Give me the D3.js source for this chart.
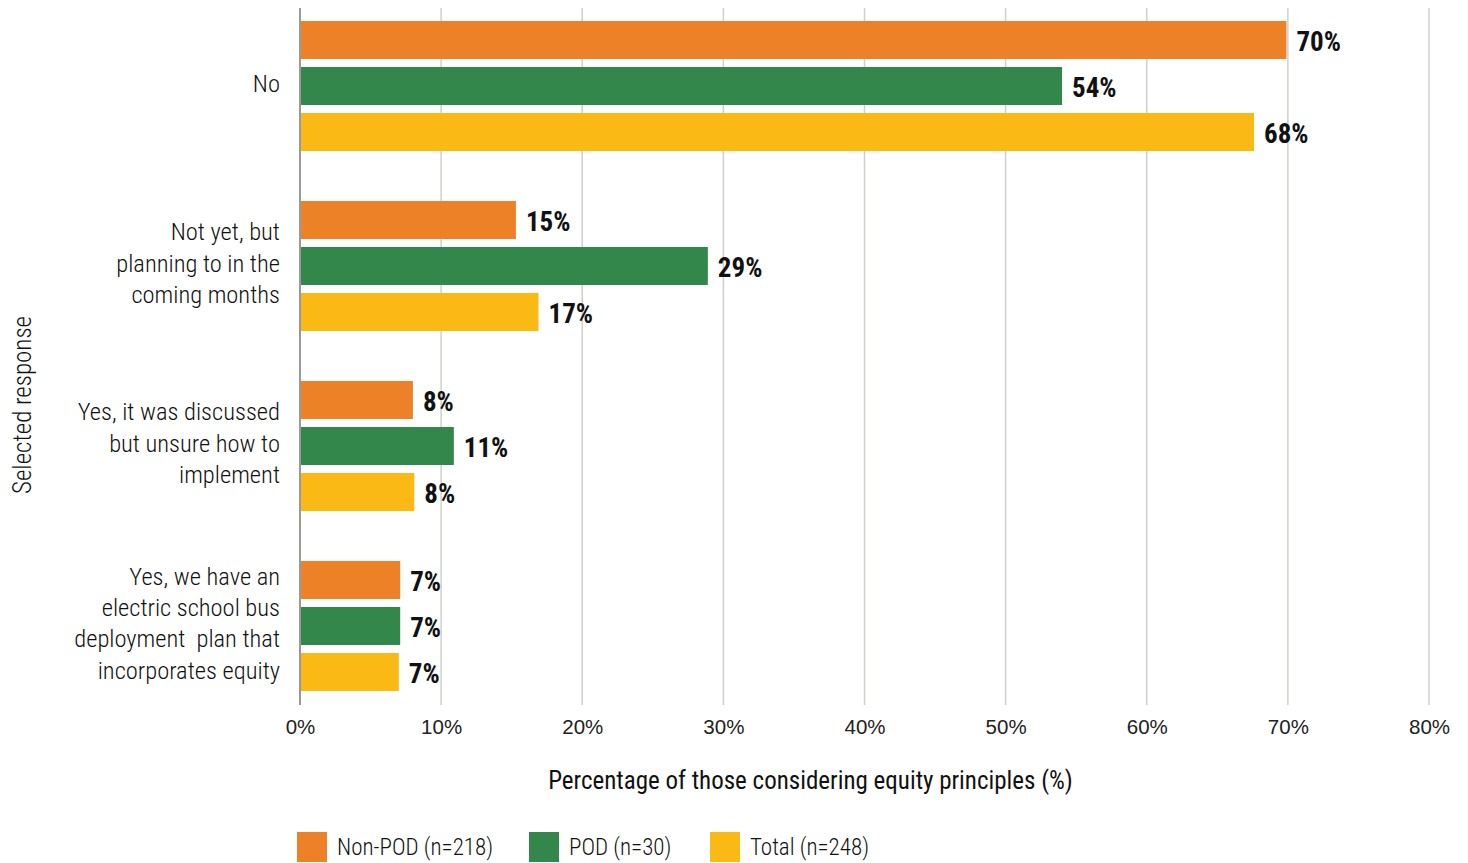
<!DOCTYPE html>
<html>
<head>
<meta charset="utf-8">
<script src="https://cdn.jsdelivr.net/npm/d3@7"></script>
<style>
  html, body { margin: 0; padding: 0; background: #fff; }
  svg { display: block; font-family: "Roboto Condensed", "Roboto", "Liberation Sans Narrow", "DejaVu Sans Condensed", sans-serif; font-stretch: 75%; }
  text { white-space: pre; }
</style>
</head>
<body>
<svg id="chart" width="1468" height="863"></svg>
<script>
// Survey responses, one line-wrapped label per category (top to bottom)
const categories = [
  ["No"],
  ["Not yet, but", "planning to in the", "coming months"],
  ["Yes, it was discussed", "but unsure how to", "implement"],
  ["Yes, we have an", "electric school bus", "deployment  plan that", "incorporates equity"]
];
const seriesNames = ["Non-POD (n=218)", "POD (n=30)", "Total (n=248)"];
const seriesColors = ["#EC8128", "#33874A", "#FBB915"];
// Share of respondents (%) per category
const nonPod = [69.9, 15.3, 8.0, 7.1];
const pod    = [54.0, 28.9, 10.9, 7.1];
const total  = [67.6, 16.9, 8.1, 7.0];
const xTicks = [0, 10, 20, 30, 40, 50, 60, 70, 80];
const xTitle = "Percentage of those considering equity principles (%)";
const yTitle = "Selected response";

const seriesValues = [nonPod, pod, total];
const svg = d3.select("#chart");

const x = d3.scaleLinear().domain([0, 80]).range([300, 1429]);
const y = d3.scaleBand().domain(d3.range(categories.length)).range([-4, 716]).paddingInner(0).paddingOuter(0);
const ySub = d3.scaleBand().domain(d3.range(seriesNames.length)).range([25, 155]).paddingInner(8 / 46).paddingOuter(0);

const plotTop = 8, plotBottom = 705;

// vertical gridlines
svg.append("g").selectAll("line")
  .data(xTicks.filter(d => d > 0))
  .join("line")
  .attr("x1", d => x(d)).attr("x2", d => x(d))
  .attr("y1", plotTop).attr("y2", plotBottom)
  .attr("stroke", "#cfcfcb").attr("stroke-width", 1.5);

// bars
const groups = svg.append("g").selectAll("g")
  .data(categories.map((c, i) => i))
  .join("g")
  .attr("transform", i => `translate(0,${y(i)})`);

groups.selectAll("rect")
  .data(i => seriesValues.map((vals, s) => ({ s, v: vals[i] })))
  .join("rect")
  .attr("x", x(0))
  .attr("y", d => ySub(d.s))
  .attr("width", d => x(d.v) - x(0))
  .attr("height", ySub.bandwidth())
  .attr("fill", d => seriesColors[d.s]);

groups.selectAll("text.val")
  .data(i => seriesValues.map((vals, s) => ({ s, v: vals[i] })))
  .join("text")
  .attr("class", "val")
  .attr("x", d => x(d.v) + 10)
  .attr("y", d => ySub(d.s) + ySub.bandwidth() / 2 + 2)
  .attr("dy", "0.35em")
  .attr("font-size", 27)
  .attr("font-weight", 700)
  .attr("fill", "#111")
  .text(d => `${Math.round(d.v)}%`);

// zero axis line
svg.append("line")
  .attr("x1", x(0)).attr("x2", x(0))
  .attr("y1", plotTop).attr("y2", plotBottom)
  .attr("stroke", "#9a9a94").attr("stroke-width", 2);

// x tick labels
const xAxis = d3.axisBottom(x).tickValues(xTicks).tickFormat(d => d + "%").tickSize(0).tickPadding(0);
const xg = svg.append("g").attr("transform", `translate(0,${plotBottom})`).call(xAxis);
xg.select(".domain").remove();
xg.selectAll("text")
  .attr("y", 22).attr("dy", "0.35em")
  .attr("font-family", null)
  .attr("font-size", 20.5).attr("font-weight", 300).attr("fill", "#222");

// category labels
const catLabel = svg.append("g").selectAll("text")
  .data(categories.map((lines, i) => ({ lines, i })))
  .join("text")
  .attr("text-anchor", "end")
  .attr("font-size", 24.5).attr("font-weight", 300).attr("fill", "#111");
catLabel.each(function(d) {
  const t = d3.select(this);
  const lh = 31.3;
  const cy = y(d.i) + y.bandwidth() / 2 - 3;
  const start = cy - (d.lines.length - 1) * lh / 2;
  d.lines.forEach((line, k) => {
    t.append("tspan").attr("x", 280).attr("y", start + k * lh).attr("dy", "0.35em").text(line);
  });
});

// axis titles
svg.append("text")
  .attr("x", (x(0) + x(80)) / 2 - 54).attr("y", 780).attr("dy", "0.35em")
  .attr("text-anchor", "middle")
  .attr("font-size", 25).attr("font-weight", 400).attr("fill", "#111")
  .text(xTitle);

svg.append("text")
  .attr("transform", "translate(22,405) rotate(-90)")
  .attr("dy", "0.35em")
  .attr("text-anchor", "middle")
  .attr("font-size", 25).attr("font-weight", 300).attr("fill", "#111")
  .text(yTitle);

// legend
const legendX = [297, 529, 710];
const legend = svg.append("g").selectAll("g")
  .data(seriesNames.map((n, i) => ({ n, i })))
  .join("g")
  .attr("transform", d => `translate(${legendX[d.i]},832)`);
legend.append("rect").attr("width", 30).attr("height", 30).attr("fill", d => seriesColors[d.i]);
legend.append("text")
  .attr("x", 40).attr("y", 15).attr("dy", "0.35em")
  .attr("font-size", 23).attr("font-weight", 300).attr("fill", "#111")
  .text(d => d.n);
</script>
</body>
</html>
